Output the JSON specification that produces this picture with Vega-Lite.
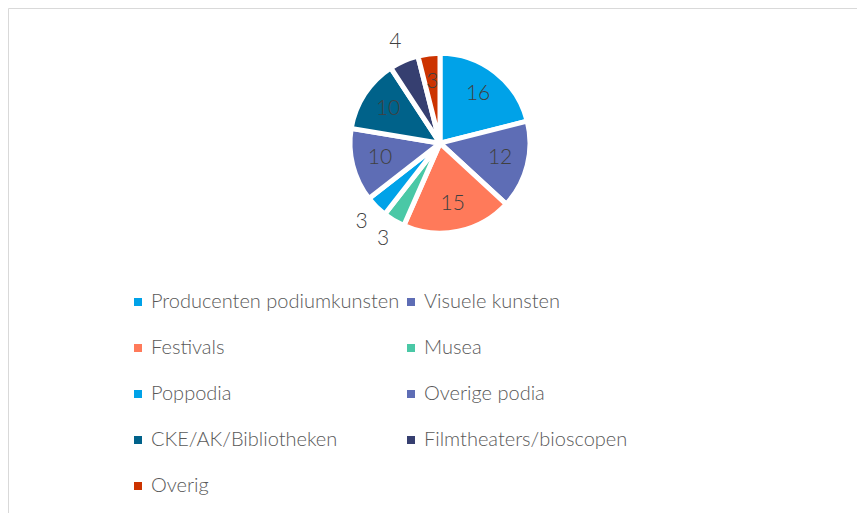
{
  "$schema": "https://vega.github.io/schema/vega-lite/v6.json",
  "width": 864,
  "height": 520,
  "autosize": {"type": "none"},
  "padding": {"left": 8, "top": 8, "right": 0, "bottom": 0},
  "background": "white",
  "config": {"view": {"stroke": "#d9d9d9", "strokeWidth": 1}, "font": "Lato"},
  "data": {
    "values": [
      {"nr": 1, "categorie": "Producenten podiumkunsten", "aantal": 16},
      {"nr": 2, "categorie": "Visuele kunsten", "aantal": 12},
      {"nr": 3, "categorie": "Festivals", "aantal": 15},
      {"nr": 4, "categorie": "Musea", "aantal": 3},
      {"nr": 5, "categorie": "Poppodia", "aantal": 3},
      {"nr": 6, "categorie": "Overige podia", "aantal": 10},
      {"nr": 7, "categorie": "CKE/AK/Bibliotheken", "aantal": 10},
      {"nr": 8, "categorie": "Filmtheaters/bioscopen", "aantal": 4},
      {"nr": 9, "categorie": "Overig", "aantal": 3}
    ]
  },
  "encoding": {
    "theta": {"field": "aantal", "type": "quantitative", "stack": true},
    "order": {"field": "nr", "type": "quantitative"},
    "y": {"datum": 0.26, "type": "quantitative", "scale": {"domain": [0, 1], "reverse": true, "zero": false, "nice": false}, "axis": null}
  },
  "layer": [
    {
      "mark": {"type": "arc", "outerRadius": 90, "stroke": "white", "strokeWidth": 5},
      "encoding": {
        "color": {
          "field": "categorie",
          "type": "nominal",
          "scale": {
            "domain": ["Producenten podiumkunsten", "Visuele kunsten", "Festivals", "Musea", "Poppodia", "Overige podia", "CKE/AK/Bibliotheken", "Filmtheaters/bioscopen", "Overig"],
            "range": ["#00A2E8", "#5E6DB5", "#FF7A5A", "#4AC8A6", "#00A2E8", "#5E6DB5", "#00628A", "#363F70", "#CC3300"]
          },
          "legend": {
            "orient": "none",
            "direction": "horizontal",
            "legendX": 120,
            "legendY": 284,
            "columns": 2,
            "title": null,
            "symbolType": "square",
            "symbolSize": 64,
            "symbolStrokeWidth": 0,
            "labelFontSize": 20,
            "labelFont": "Lato",
            "labelFontWeight": 300,
            "labelColor": "#595959",
            "labelOffset": 3,
            "labelLimit": 400,
            "rowPadding": 26,
            "columnPadding": 1,
            "padding": 0
          }
        }
      }
    },
    {
      "mark": {"type": "text", "radius": 62, "fontSize": 21, "fontWeight": 300, "font": "Lato", "fill": "#404040", "align": "center", "baseline": "middle"},
      "encoding": {
        "text": {"field": "aantal", "type": "quantitative"},
        "opacity": {"condition": {"test": "datum.categorie === 'Musea' || datum.categorie === 'Poppodia' || datum.categorie === 'Filmtheaters/bioscopen'", "value": 0}, "value": 1}
      }
    },
    {
      "mark": {"type": "text", "radius": 111, "fontSize": 21, "fontWeight": 300, "font": "Lato", "fill": "#404040", "align": "center", "baseline": "middle"},
      "encoding": {
        "text": {"field": "aantal", "type": "quantitative"},
        "opacity": {"condition": {"test": "datum.categorie === 'Musea' || datum.categorie === 'Poppodia' || datum.categorie === 'Filmtheaters/bioscopen'", "value": 1}, "value": 0}
      }
    }
  ]
}
